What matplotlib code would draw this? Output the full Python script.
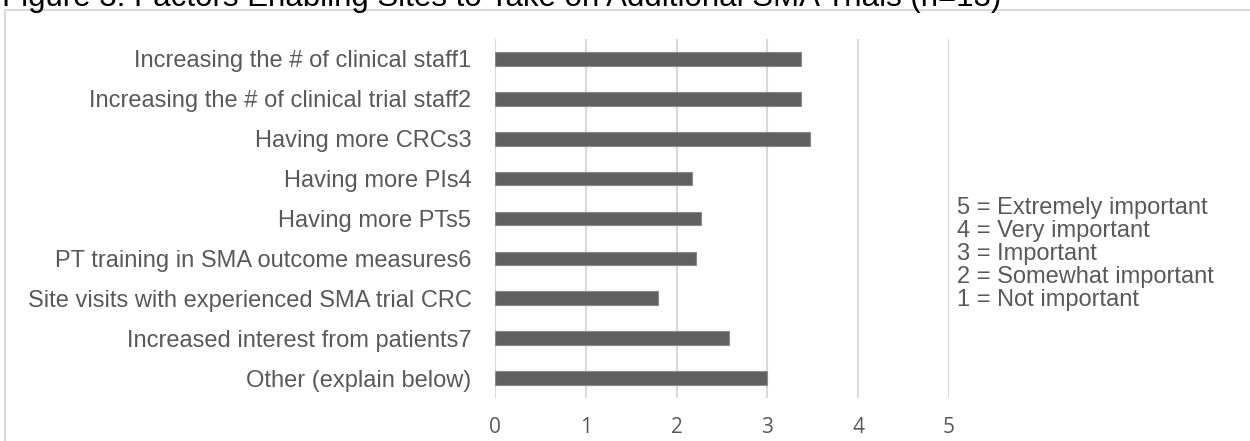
import matplotlib.pyplot as plt
from matplotlib.patches import Rectangle

# Mean importance rating per factor
factors = [
    "Increasing the # of clinical staff1",
    "Increasing the # of clinical trial staff2",
    "Having more CRCs3",
    "Having more PIs4",
    "Having more PTs5",
    "PT training in SMA outcome measures6",
    "Site visits with experienced SMA trial CRC",
    "Increased interest from patients7",
    "Other (explain below)",
]
ratings = [3.37, 3.37, 3.47, 2.17, 2.27, 2.21, 1.79, 2.58, 3.00]
scale_notes = [
    "5 = Extremely important",
    "4 = Very important",
    "3 = Important",
    "2 = Somewhat important",
    "1 = Not important",
]
title = "Figure 3: Factors Enabling Sites to Take on Additional SMA Trials (n=13)"

W, H = 1250, 441
fig = plt.figure(figsize=(W / 100, H / 100), dpi=100)
plt.rcParams['font.family'] = ['Liberation Sans', 'DejaVu Sans']

# chart frame (runs off the right and bottom edges)
fig.patches.append(Rectangle((5 / W, -0.1), 1.2, 1 - 10 / H + 0.1,
                             transform=fig.transFigure, fill=False,
                             edgecolor='#d9d9d9', linewidth=1.5))

fig.text(2 / W, 1 - 6 / H, title, fontsize=22.5, color='black',
         ha='left', va='baseline')

ax = fig.add_axes([495 / W, 1 - 398 / H, (949 - 495) / W, (398 - 39) / H])
ypos = range(len(factors))
ax.barh(ypos, ratings, height=0.34, color='#606060',
        edgecolor='#8a8a8a', linewidth=0.8, zorder=3)
ax.set_xlim(0, 5)
ax.set_ylim(len(factors) - 0.5, -0.5)
ax.set_xticks(range(6))
ax.set_yticks(list(ypos))
ax.set_yticklabels(factors, fontsize=17, color='#595959')
ax.tick_params(axis='y', length=0, pad=17)
ax.tick_params(axis='x', length=0, pad=14, labelsize=15, labelcolor='#595959')
for lab in ax.get_xticklabels():
    lab.set_family(['Open Sans', 'DejaVu Sans'])
ax.grid(axis='x', color='#d9d9d9', linewidth=1.5, zorder=0)
for s in ax.spines.values():
    s.set_visible(False)

# rating scale key
for i, note in enumerate(scale_notes):
    fig.text(957 / W, 1 - (208 + 23 * i) / H, note, fontsize=17,
             color='#595959', ha='left', va='center')

fig.savefig('out.png', dpi=100, facecolor='white')
